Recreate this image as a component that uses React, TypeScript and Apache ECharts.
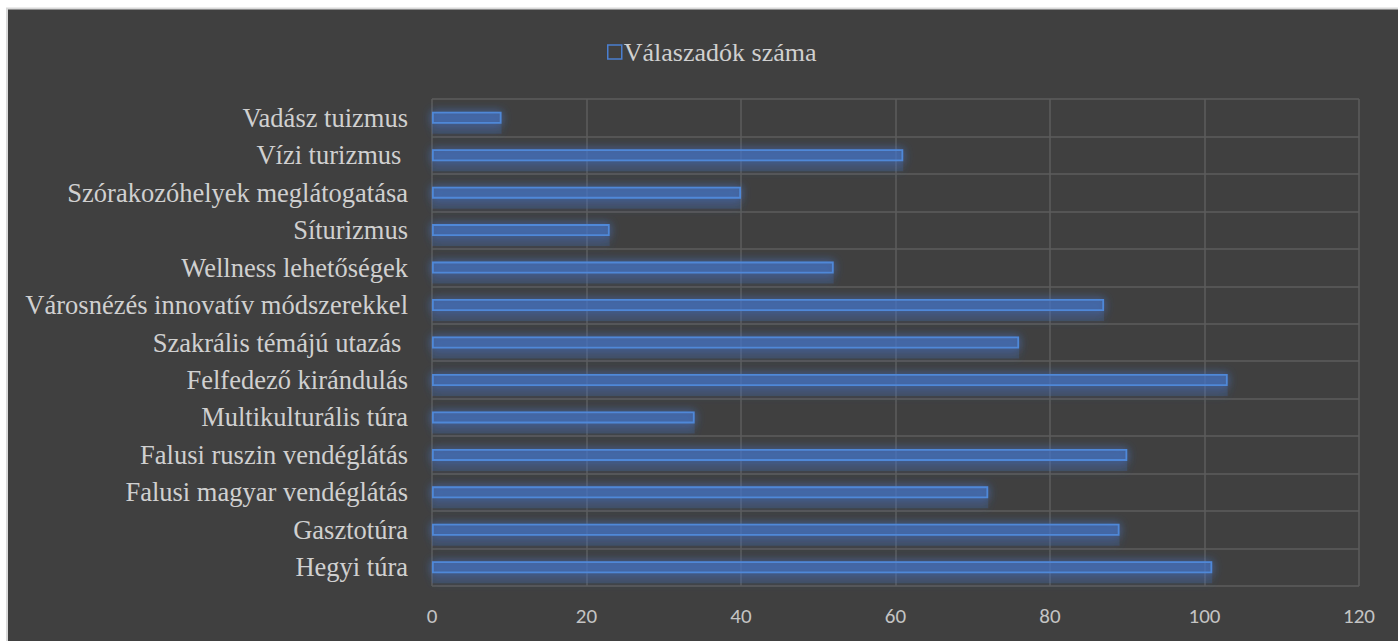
import React, { useEffect, useRef } from "react";
import * as echarts from "echarts";

const categories = [
  "Hegyi túra",
  "Gasztotúra",
  "Falusi magyar vendéglátás",
  "Falusi ruszin vendéglátás",
  "Multikulturális túra",
  "Felfedező kirándulás",
  "Szakrális témájú utazás ",
  "Városnézés innovatív módszerekkel",
  "Wellness lehetőségek",
  "Síturizmus",
  "Szórakozóhelyek meglátogatása",
  "Vízi turizmus ",
  "Vadász tuizmus",
];
const seriesName = "Válaszadók száma";
const values = [101, 89, 72, 90, 34, 103, 76, 87, 52, 23, 40, 61, 9];
const xTicks = { min: 0, max: 120, interval: 20 };

export default function App() {
  const ref = useRef<HTMLDivElement>(null);
  useEffect(() => {
    if (!ref.current) return;
    const chart = echarts.init(ref.current, undefined, { renderer: "svg" });
    chart.setOption({
      animation: false,
      backgroundColor: "#ffffff",
      graphic: [
        {
          type: "rect",
          z: -100,
          silent: true,
          shape: { x: 7, y: 8.5, width: 1420, height: 700 },
          style: { fill: "#404040", stroke: "#d9d9d9", lineWidth: 2 },
        },
      ],
      legend: {
        data: [seriesName],
        left: 602,
        top: 34,
        icon: "rect",
        itemWidth: 14,
        itemHeight: 14,
        itemGap: 10,
        itemStyle: {
          color: "rgba(0,0,0,0)",
          borderColor: "#4a7fd0",
          borderWidth: 1.5,
          shadowBlur: 0,
          shadowColor: "rgba(0,0,0,0)",
        },
        textStyle: {
          fontFamily: "'Liberation Serif', 'Times New Roman', serif",
          fontSize: 26,
          color: "#d0d0d0",
          padding: [0, 0, 0, -3],
        },
      },
      grid: { left: 432, right: 39, top: 99, bottom: 55, containLabel: false },
      xAxis: {
        type: "value",
        min: xTicks.min,
        max: xTicks.max,
        interval: xTicks.interval,
        axisLine: { show: false },
        axisTick: { show: false },
        axisLabel: {
          margin: 19,
          fontFamily: "Carlito, Lato, 'Open Sans', sans-serif",
          fontSize: 21,
          color: "#c4c4c4",
        },
        splitLine: { show: true, lineStyle: { color: "#5c5c5c", width: 1.5 } },
      },
      yAxis: {
        type: "category",
        data: categories,
        axisLine: { show: false },
        axisTick: { show: false },
        axisLabel: {
          margin: 24,
          fontFamily: "'Liberation Serif', 'Times New Roman', serif",
          fontSize: 26.5,
          color: "#d0d0d0",
        },
        splitLine: { show: true, lineStyle: { color: "#5c5c5c", width: 1.5 } },
      },
      series: [
        {
          name: "glow",
          type: "bar",
          data: values,
          barWidth: 22,
          barGap: "-100%",
          silent: true,
          z: 1,
          itemStyle: {
            color: "rgba(68,114,196,0.22)",
            shadowBlur: 10,
            shadowColor: "rgba(68,114,196,0.7)",
          },
        },
        {
          name: seriesName,
          type: "bar",
          data: values,
          barWidth: 12,
          barGap: "-100%",
          z: 3,
          itemStyle: {
            color: "rgba(68,114,196,0.4)",
            borderColor: "#4f88d8",
            borderWidth: 1.8,
            shadowBlur: 10,
            shadowColor: "rgba(68,120,210,0.9)",
          },
        },
      ],
    });
    return () => chart.dispose();
  }, []);
  return (
    <div
      ref={ref}
      style={{ position: "absolute", left: 0, top: 0, width: 1398, height: 641 }}
    />
  );
}
